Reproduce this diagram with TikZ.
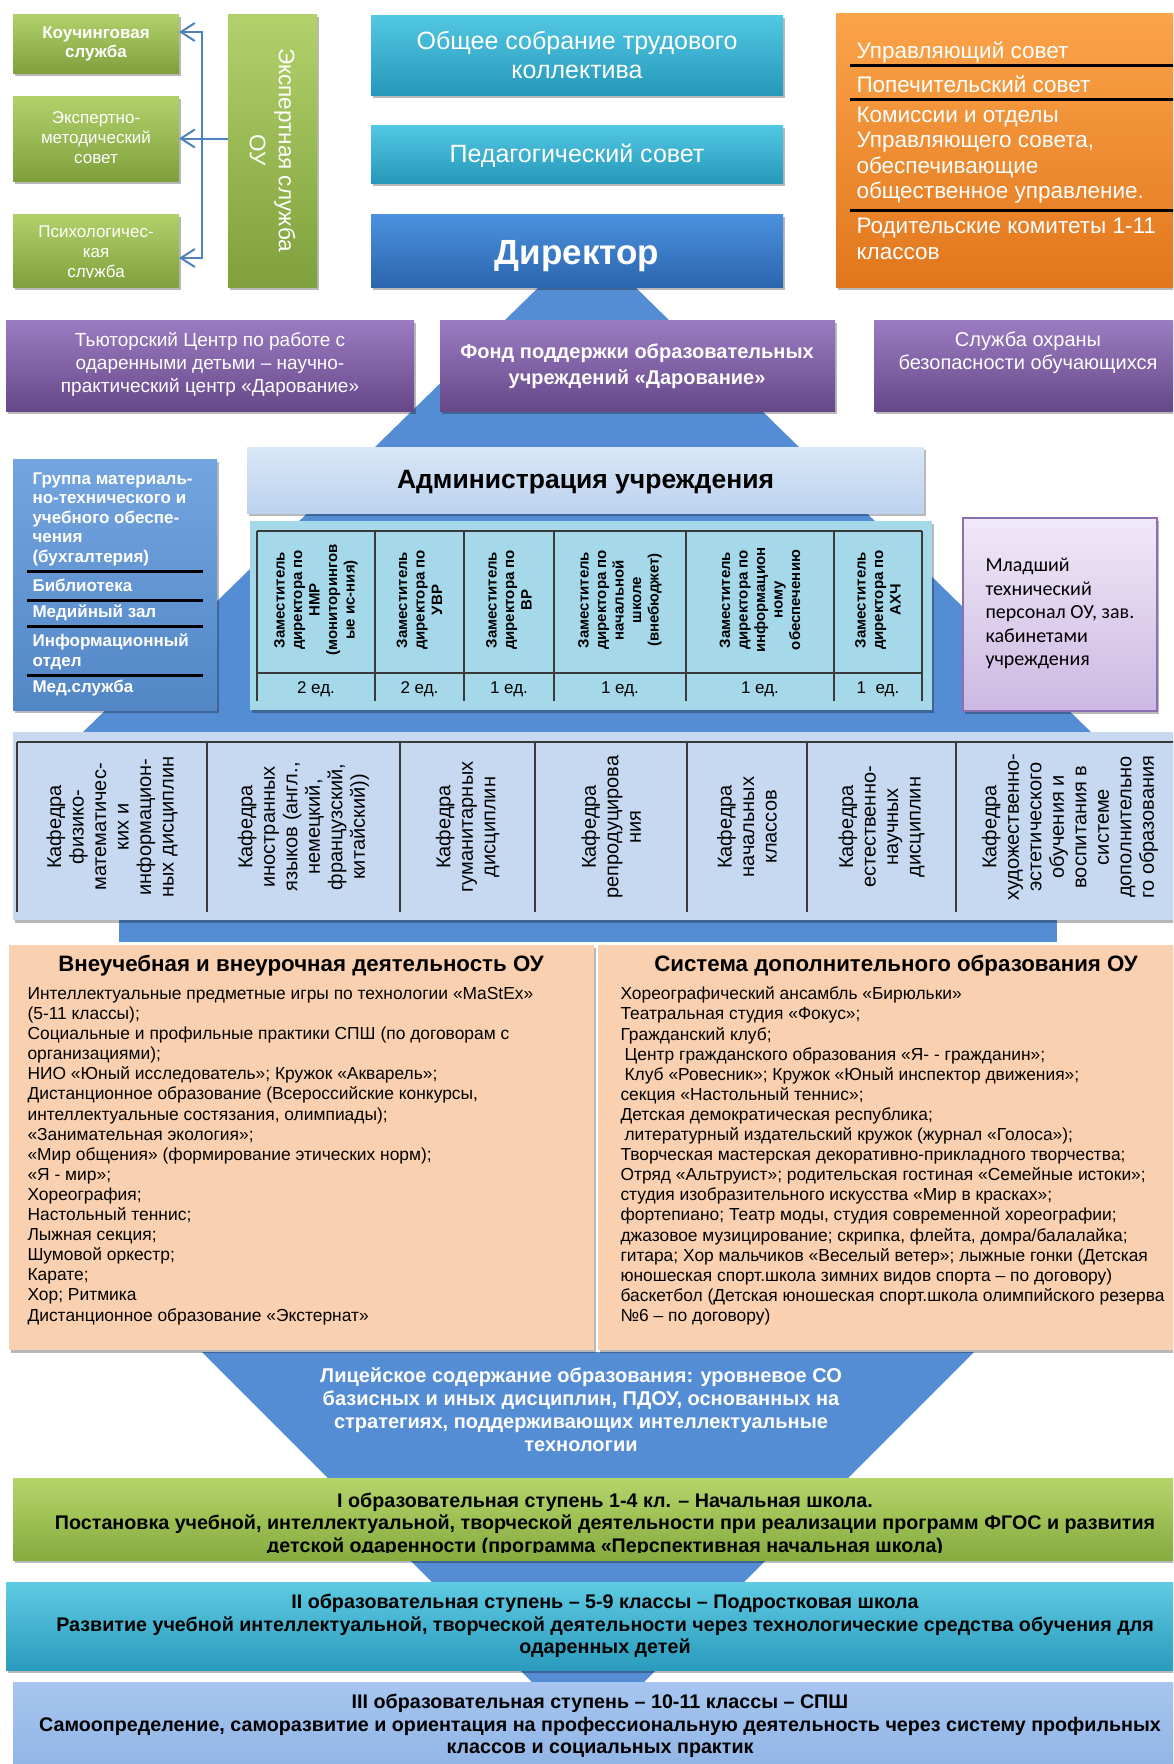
\documentclass[tikz,border=0pt]{standalone}
\usepackage{fontspec}
\setmainfont{Liberation Sans}
\newfontfamily\calfont{Carlito}
\usetikzlibrary{arrows.meta,shadows,fit}
\newcommand{\myfs}[2]{\fontsize{#1}{#2}\selectfont}
\definecolor{gtop}{HTML}{B2D16B}
\definecolor{gbot}{HTML}{7FA03C}
\definecolor{ttop}{HTML}{52C8E3}
\definecolor{tbot}{HTML}{2698BA}
\definecolor{dtop}{HTML}{4B92DE}
\definecolor{dbot}{HTML}{2C65AE}
\definecolor{otop}{HTML}{FBA44A}
\definecolor{obot}{HTML}{E2761C}
\definecolor{ptop}{HTML}{9B7CC2}
\definecolor{pbot}{HTML}{664889}
\definecolor{grpblue}{HTML}{5B95DB}
\definecolor{tri}{HTML}{558DD4}
\definecolor{adtop}{HTML}{D9E7F7}
\definecolor{adbot}{HTML}{BCD2EE}
\definecolor{tbl}{HTML}{A5D9EA}
\definecolor{kaf}{HTML}{C6D9F1}
\definecolor{peach}{HTML}{FAD1B0}
\definecolor{lavtop}{HTML}{F0E9F8}
\definecolor{lavbot}{HTML}{CCB8E2}
\definecolor{lavline}{HTML}{8D70B2}
\definecolor{bgtop}{HTML}{B5D56B}
\definecolor{bgbot}{HTML}{86AB3F}
\definecolor{bttop}{HTML}{5FCBE3}
\definecolor{btbot}{HTML}{2A9BBD}
\definecolor{bltop}{HTML}{A7C5EF}
\definecolor{blbot}{HTML}{8BB1E4}
\definecolor{arrowblue}{HTML}{4F81BD}
\definecolor{gridc}{HTML}{3A3A3A}
\begin{document}
\begin{tikzpicture}[x=1pt,y=-1pt,
  box/.style={inner sep=0pt,outer sep=0pt,draw=none},
  sh/.style={drop shadow={shadow xshift=2pt,shadow yshift=-3pt,opacity=0.28,fill=black}},
  greenbox/.style={box,sh,top color=gtop,bottom color=gbot},
  tealbox/.style={box,sh,top color=ttop,bottom color=tbot},
  purplebox/.style={box,sh,top color=ptop,bottom color=pbot},
  wtext/.style={align=center,text=white},
  bandtext/.style={align=center,text=black,font=\myfs{19.7}{22.5}\bfseries},
  sepline/.style={line width=3pt,black},
  grid/.style={line width=1.1pt,gridc},
  deptext/.style={rotate=90,align=center,font=\myfs{15}{17.5}\bfseries},
  kaftext/.style={rotate=90,align=center,font=\myfs{20}{22.5}},
  conn/.style={draw=arrowblue,line width=2pt,-{Straight Barb[length=14pt,width=18pt]}}
]
\useasboundingbox (0,0) rectangle (1173,1764);
\clip (0,0) rectangle (1173,1764);
\fill[white] (0,0) rectangle (1173,1764);

% background pyramids
\fill[tri] (587,240) -- (1094,735) -- (80,735) -- cycle;
\fill[tri] (119,735) rectangle (1057,942);

% top-left green
\node[greenbox,fit={(13,14)(179,73)}] (koch) {};
\node[wtext,font=\myfs{17}{19.5}\bfseries] (kochtxt) at (96,44) {Коучинговая\\служба};
\node[greenbox,fit={(13,96)(179,181)}] (emc) {};
\node[wtext,font=\myfs{17}{20}] (emctxt) at (96,138) {Экспертно-\\методический\\совет};
\node[greenbox,fit={(13,214)(179,287)}] (psych) {};
\begin{scope}
\clip (13,214) rectangle (179,277);
\node[wtext,font=\myfs{17}{20}] (psychtxt) at (96,253) {Психологичес-\\кая\\служба};
\end{scope}
\node[greenbox,fit={(228,14)(317,287)}] (expert) {};
\node[rotate=-90,wtext,font=\myfs{22.5}{29}] (experttxt) at (272.5,150) {Экспертная служба\\ОУ};

\coordinate (jt) at (202,32);
\coordinate (jb) at (202,258);
\draw[conn,{Straight Barb[length=14pt,width=18pt]}-{Straight Barb[length=14pt,width=18pt]}] (koch.east |- jt) -- (jt) -- (jb) -- (psych.east |- jb);
\draw[conn] (expert.west |- emc.east) -- (emc.east);

% teal & director
\node[tealbox,fit={(371,15)(783,95)}] (assembly) {};
\node[wtext,font=\myfs{25}{29}] (assemblytxt) at (577,55) {Общее собрание трудового\\коллектива};
\node[tealbox,fit={(371,125)(783,183)}] (pedsov) {};
\node[wtext,font=\myfs{25}{29}] (pedsovtxt) at (577,156) {Педагогический совет};
\node[box,sh,top color=dtop,bottom color=dbot,fit={(371,214)(783,287)}] (director) {};
\node[wtext,font=\myfs{35}{40}\bfseries] (directortxt) at (577,256) {Директор};

% orange
\node[box,sh,top color=otop,bottom color=obot,fit={(836,13)(1190,287)}] (council) {};
\draw[sepline] (850,65) -- (1180,65);
\draw[sepline] (850,99) -- (1180,99);
\draw[sepline] (850,210) -- (1180,210);
\begin{scope}[every node/.style={anchor=west,align=left,text=white,font=\myfs{22.5}{25.5}}]
\node (c1) at (853,52) {Управляющий совет};
\node (c2) at (853,84) {Попечительский совет};
\node (c3) at (853,155) {Комиссии и отделы\\Управляющего совета,\\обеспечивающие\\общественное управление.};
\node (c4) at (853,239) {Родительские комитеты 1-11\\классов};
\end{scope}

% purple row
\node[purplebox,fit={(6,320)(414,411)}] (tutor) {};
\node[wtext,font=\myfs{19}{23}] (tutortxt) at (210,364) {Тьюторский Центр по работе с\\одаренными детьми – научно-\\практический центр «Дарование»};
\node[purplebox,fit={(440,320)(835,411)}] (fund) {};
\node[wtext,font=\myfs{20}{25.5}\bfseries] (fundtxt) at (637,366) {Фонд поддержки образовательных\\учреждений «Дарование»};
\node[purplebox,fit={(874,320)(1190,411)}] (security) {};
\node[wtext,font=\myfs{20}{23}] (sectxt) at (1028,353) {Служба охраны\\безопасности обучающихся};

% left blue group
\node[box,sh,top color=grpblue!85!white,bottom color=grpblue!90!black,fit={(13,459)(217,710)}] (group) {};
\draw[sepline] (27,571) -- (203,571);
\draw[sepline] (27,600) -- (203,600);
\draw[sepline] (27,626) -- (203,626);
\draw[sepline] (27,675) -- (203,675);
\begin{scope}[every node/.style={anchor=west,align=left,text=white,font=\myfs{17}{19.5}\bfseries}]
\node (g1) at (29,519) {Группа материаль-\\но-технического и\\учебного обеспе-\\чения\\(бухгалтерия)};
\node (g2) at (29,585) {Библиотека};
\node (g3) at (29,613) {Медийный зал};
\node (g4) at (29,652) {Информационный\\отдел};
\node (g5) at (29,688) {Мед.служба};
\end{scope}

% administration
\node[box,sh,top color=adtop,bottom color=adbot,fit={(247,447)(924,513)}] (admin) {};
\node[font=\myfs{26.5}{30}\bfseries] (admintxt) at (585.5,482) {Администрация учреждения};

% deputies table
\node[box,sh,fill=tbl,fit={(250,521)(932,710)}] (deptable) {};
\draw[grid] (257,531) -- (922,531);
\draw[grid] (257,673) -- (922,673);
\foreach \xx in {257,375,464,554,686,834,922} {\draw[grid] (\xx,531) -- (\xx,701);}
\node[deptext] (d1) at (316,600) {Заместитель\\директора по\\НМР\\(мониторингов\\ые ис-ния)};
\node[deptext] (d2) at (419.5,600) {Заместитель\\директора по\\УВР};
\node[deptext] (d3) at (509,600) {Заместитель\\директора по\\ВР};
\node[deptext] (d4) at (620,600) {Заместитель\\директора по\\начальной\\школе\\(внебюджет)};
\node[deptext] (d5) at (760,600) {Заместитель\\директора по\\информацион\\ному\\обеспечению};
\node[deptext] (d6) at (878,600) {Заместитель\\директора по\\АХЧ};
\begin{scope}[every node/.style={font=\myfs{17}{20}}]
\node (n1) at (316,689) {2 ед.};
\node (n2) at (419.5,689) {2 ед.};
\node (n3) at (509,689) {1 ед.};
\node (n4) at (620,689) {1 ед.};
\node (n5) at (760,689) {1 ед.};
\node (n6) at (878,689) {1\ \ ед.};
\end{scope}

% lavender
\node[box,sh,top color=lavtop,bottom color=lavbot,draw=lavline,line width=1.5pt,fit={(963,518)(1157,711)}] (junior) {};
\node[anchor=west,align=left,font=\calfont\myfs{20}{23.5}] (juniortxt) at (982,613.5) {Младший\\технический\\персонал ОУ, зав.\\кабинетами\\учреждения};

% kafedra band
\node[box,sh,fill=kaf,fit={(13,732)(1190,920)}] (kafband) {};
\draw[grid] (17,742) -- (1190,742);
\foreach \xx in {17,207,400,535,687,807,956} {\draw[grid] (\xx,742) -- (\xx,912);}
\node[kaftext] (k1) at (112,827) {Кафедра\\физико-\\математичес-\\ких и\\информацион-\\ных дисциплин};
\node[kaftext] (k2) at (303.5,827) {Кафедра\\иностранных\\языков (англ.,\\немецкий,\\французский,\\китайский))};
\node[kaftext] (k3) at (467.5,827) {Кафедра\\гуманитарных\\дисциплин};
\node[kaftext] (k4) at (611,827) {Кафедра\\репродуцирова\\ния};
\node[kaftext] (k5) at (747,827) {Кафедра\\начальных\\классов};
\node[kaftext] (k6) at (881.5,827) {Кафедра\\естественно-\\научных\\дисциплин};
\node[kaftext] (k7) at (1070,827) {Кафедра\\художественно-\\эстетического\\обучения и\\воспитания в\\системе\\дополнительно\\го образования};

% lower inverted triangle
\fill[tri] (202,1352) -- (974,1352) -- (588,1738) -- cycle;

% peach boxes
\node[box,sh,fill=peach,fit={(9,945)(594,1350)}] (extra) {};
\node[box,sh,fill=peach,fit={(598,945)(1190,1350)}] (addedu) {};
\node[font=\myfs{22.3}{25}\bfseries] (extratitle) at (301,966) {Внеучебная и внеурочная деятельность ОУ};
\node[font=\myfs{22.3}{25}\bfseries] (addtitle) at (896,966) {Система дополнительного образования ОУ};
\node[anchor=west,align=left,font=\myfs{17.4}{20.1}] (extrabody) at (24,1156) {Интеллектуальные предметные игры по технологии «MaStEx»\\(5-11 классы);\\Социальные и профильные практики СПШ (по договорам с\\организациями);\\НИО «Юный исследователь»; Кружок «Акварель»;\\Дистанционное образование (Всероссийские конкурсы,\\интеллектуальные состязания, олимпиады);\\«Занимательная экология»;\\«Мир общения» (формирование этических норм);\\«Я - мир»;\\Хореография;\\Настольный теннис;\\Лыжная секция;\\Шумовой оркестр;\\Карате;\\Хор; Ритмика\\Дистанционное образование «Экстернат»};
\node[anchor=west,align=left,font=\myfs{17.4}{20.1}] (addbody) at (617,1156) {Хореографический ансамбль «Бирюльки»\\Театральная студия «Фокус»;\\Гражданский клуб;\\\hspace{4pt}Центр гражданского образования «Я- - гражданин»;\\\hspace{4pt}Клуб «Ровесник»; Кружок «Юный инспектор движения»;\\секция «Настольный теннис»;\\Детская демократическая республика;\\\hspace{4pt}литературный издательский кружок (журнал «Голоса»);\\Творческая мастерская декоративно-прикладного творчества;\\Отряд «Альтруист»; родительская гостиная «Семейные истоки»;\\студия изобразительного искусства «Мир в красках»;\\фортепиано; Театр моды, студия современной хореографии;\\джазовое музицирование; скрипка, флейта, домра/балалайка;\\гитара; Хор мальчиков «Веселый ветер»; лыжные гонки (Детская\\юношеская спорт.школа зимних видов спорта – по договору)\\баскетбол (Детская юношеская спорт.школа олимпийского резерва\\№6 – по договору)};

\node[wtext,font=\myfs{20}{23}\bfseries] (lyceum) at (581,1410) {Лицейское содержание образования: уровневое СО\\базисных и иных дисциплин, ПДОУ, основанных на\\стратегиях, поддерживающих интеллектуальные\\технологии};

% bands
\node[box,sh,top color=bgtop,bottom color=bgbot,fit={(13,1478)(1190,1560)}] (stage1) {};
\begin{scope}
\clip (13,1478) rectangle (1190,1552);
\node[bandtext] (stage1txt) at (605,1524.5) {I образовательная ступень 1-4 кл. – Начальная школа.\\Постановка учебной, интеллектуальной, творческой деятельности при реализации программ ФГОС и развития\\детской одаренности (программа «Перспективная начальная школа)};
\end{scope}
\node[box,sh,top color=bttop,bottom color=btbot,fit={(6,1582)(1190,1670)}] (stage2) {};
\node[bandtext] (stage2txt) at (605,1626) {II образовательная ступень – 5-9 классы – Подростковая школа\\Развитие учебной интеллектуальной, творческой деятельности через технологические средства обучения для\\одаренных детей};
\node[box,sh,top color=bltop,bottom color=blbot,fit={(13,1682)(1190,1790)}] (stage3) {};
\node[bandtext] (stage3txt) at (600,1726) {III образовательная ступень – 10-11 классы – СПШ\\Самоопределение, саморазвитие и ориентация на профессиональную деятельность через систему профильных\\классов и социальных практик};
\end{tikzpicture}
\end{document}
